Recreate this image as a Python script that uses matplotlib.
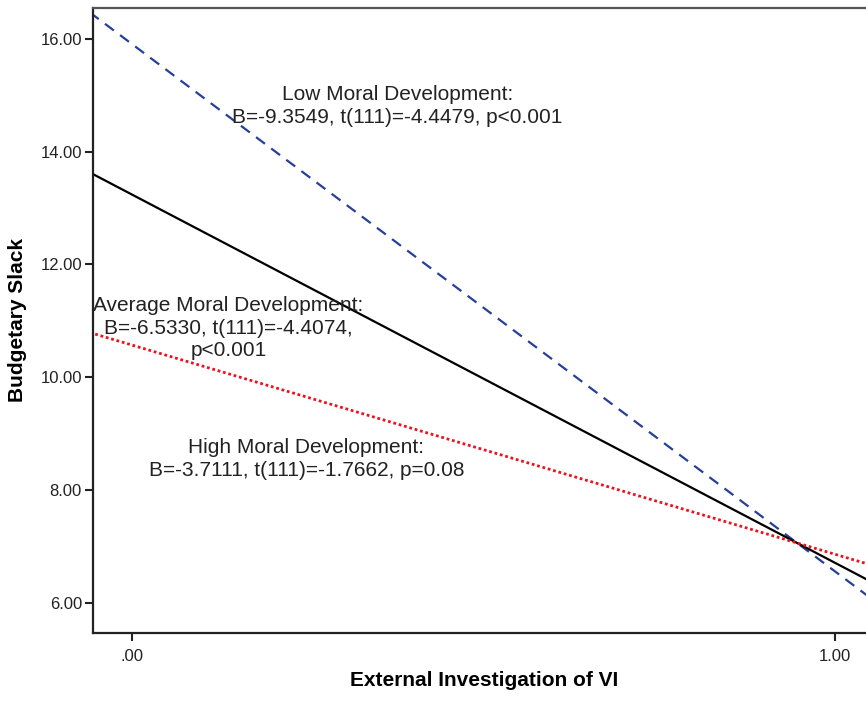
import matplotlib
matplotlib.use("Agg")
import matplotlib.pyplot as plt
import numpy as np

plt.rcParams['font.family'] = ['Liberation Sans', 'DejaVu Sans']

# simple slopes (intercept at x=0, slope B)
groups = ["Low", "Average", "High"]
intercepts = [15.91, 13.24, 10.57]
slopes = [-9.3549, -6.5330, -3.7111]
x_range = [-0.06, 1.10]

notes = [
    "Low Moral Development:\nB=-9.3549, t(111)=-4.4479, p<0.001",
    "Average Moral Development:\nB=-6.5330, t(111)=-4.4074,\np<0.001",
    "High Moral Development:\nB=-3.7111, t(111)=-1.7662, p=0.08",
]
note_x = [0.3775, 0.137, 0.248]
note_y = [14.81, 10.87, 8.55]

xticks = [0.0, 1.0]
xticklabels = [".00", "1.00"]
yticks = [6, 8, 10, 12, 14, 16]
yticklabels = ["6.00", "8.00", "10.00", "12.00", "14.00", "16.00"]

colors = ["#26409a", "black", "#e8131f"]
styles = [(0, (5, 3.5)), "-", (0, (1, 1))]
widths = [1.6, 1.6, 2.0]

fig = plt.figure(figsize=(8.66, 7.03), dpi=100)
ax = fig.add_axes([0.1074, 0.0992, 0.8926, 0.889])

xs = np.array(x_range)
for i in range(len(groups)):
    ax.plot(xs, intercepts[i] + slopes[i] * xs, color=colors[i],
            linestyle=styles[i], linewidth=widths[i])

for i in range(len(notes)):
    ax.text(note_x[i], note_y[i], notes[i], ha="center", va="center",
            fontsize=15, color="#222222", linespacing=1.25)

ax.set_xlim(-0.0555, 1.0441)
ax.set_ylim(5.457, 16.545)
ax.set_xticks(xticks)
ax.set_xticklabels(xticklabels)
ax.set_yticks(yticks)
ax.set_yticklabels(yticklabels)
ax.tick_params(direction="out", length=6, width=1.5, labelsize=12,
               colors="#222222", pad=2)
ax.tick_params(axis="x", pad=5)

for s in ["left", "bottom", "top"]:
    ax.spines[s].set_linewidth(1.6)
    ax.spines[s].set_color("#222222")
ax.spines["top"].set_color("#555555")
ax.spines["right"].set_visible(False)

fig.text(484 / 866, 1 - 680 / 703, "External Investigation of VI",
         ha="center", va="center", fontsize=15, fontweight="bold")
fig.text(18 / 866, 1 - 320 / 703, "Budgetary Slack", rotation=90,
         ha="center", va="center", fontsize=15, fontweight="bold")

fig.savefig("out.png", dpi=100)
